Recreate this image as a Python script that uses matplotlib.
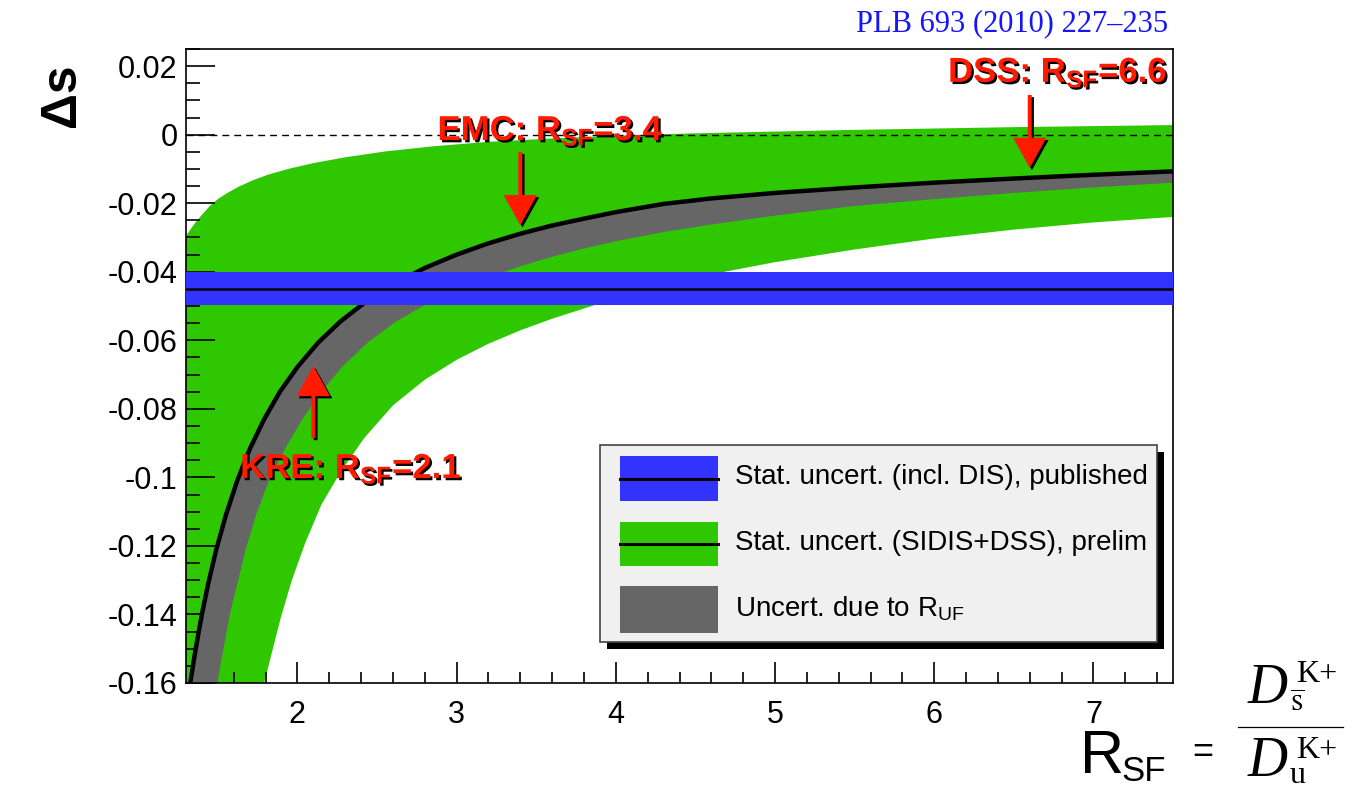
import matplotlib
matplotlib.use('Agg')
import numpy as np
import matplotlib.pyplot as plt
import matplotlib.patheffects as pe
from matplotlib.patches import FancyArrow, Rectangle
from matplotlib.lines import Line2D
from matplotlib.ticker import MultipleLocator

plt.rcParams['font.family'] = ['Liberation Sans', 'DejaVu Sans']
plt.rcParams['mathtext.fontset'] = 'custom'
plt.rcParams['mathtext.rm'] = 'Liberation Sans'
plt.rcParams['mathtext.it'] = 'Liberation Sans:italic'
plt.rcParams['mathtext.bf'] = 'Liberation Sans:bold'

# --- values ---
# central result vs R_SF (black line, top edge of the grey band)
r_central = [1.30, 1.33, 1.36, 1.40, 1.44, 1.49, 1.55, 1.62, 1.70, 1.79, 1.89, 2.00,
             2.13, 2.27, 2.42, 2.60, 2.80, 3.00, 3.20, 3.40, 3.60, 3.80, 4.00, 4.30,
             4.60, 5.00, 5.50, 6.00, 6.50, 7.00, 7.50]
ds_central = [-0.1688, -0.1590, -0.1503, -0.1399, -0.1309, -0.1211, -0.1111, -0.1012,
              -0.0918, -0.0831, -0.0750, -0.0678, -0.0607, -0.0545, -0.0491, -0.0437,
              -0.0389, -0.0350, -0.0317, -0.0289, -0.0265, -0.0245, -0.0226, -0.0202,
              -0.0186, -0.0170, -0.0154, -0.0140, -0.0128, -0.0117, -0.0107]

# lower edge of the R_UF uncertainty (grey)
r_grey_low = [1.30, 1.40, 1.50, 1.575, 1.675, 1.74, 1.82, 1.92, 2.03, 2.15, 2.28, 2.44,
              2.62, 2.80, 3.00, 3.20, 3.40, 3.60, 3.80, 4.00, 4.30, 4.60, 5.00, 5.50,
              6.00, 6.50, 7.00, 7.50]
ds_grey_low = [-0.215, -0.186, -0.159, -0.140, -0.121, -0.111, -0.101, -0.0918, -0.0831,
               -0.0750, -0.0678, -0.0607, -0.0545, -0.0497, -0.0453, -0.0416, -0.0384,
               -0.0356, -0.0332, -0.0311, -0.0284, -0.0262, -0.0236, -0.0208, -0.0188,
               -0.0170, -0.0154, -0.0140]

# stat. uncertainty SIDIS+DSS (green), upper and lower edges
r_green_up = [1.30, 1.33, 1.36, 1.40, 1.45, 1.50, 1.56, 1.63, 1.72, 1.82, 1.95, 2.10,
              2.30, 2.55, 2.85, 3.20, 3.60, 4.00, 4.50, 5.00, 5.50, 6.00, 6.50, 7.00, 7.50]
ds_green_up = [-0.0296, -0.0275, -0.0256, -0.0234, -0.0208, -0.0188, -0.0170, -0.0152,
               -0.0133, -0.0116, -0.0099, -0.0083, -0.0066, -0.0049, -0.0034, -0.0021,
               -0.0011, -0.0003, 0.0004, 0.0009, 0.0014, 0.0018, 0.0022, 0.0025, 0.0028]
r_green_low = [1.30, 1.50, 1.65, 1.791, 1.84, 1.895, 1.965, 2.05, 2.15, 2.27, 2.42, 2.60,
               2.80, 3.00, 3.20, 3.40, 3.60, 3.95, 4.30, 4.65, 5.00, 5.50, 6.00, 6.50,
               7.00, 7.50]
ds_green_low = [-0.300, -0.232, -0.190, -0.160, -0.151, -0.141, -0.130, -0.119, -0.108,
                -0.0985, -0.0885, -0.0790, -0.0715, -0.0657, -0.0610, -0.0571, -0.0537,
                -0.0485, -0.0441, -0.0403, -0.0372, -0.0335, -0.0303, -0.0277, -0.0256,
                -0.0240]

# published value (blue band)
ds_pub = -0.0449
ds_pub_err = 0.0049

# R_SF of the fragmentation function sets
model_names = ['KRE', 'EMC', 'DSS']
model_r = [2.1, 3.4, 6.6]

legend_labels = ['Stat. uncert. (incl. DIS), published',
                 'Stat. uncert. (SIDIS+DSS), prelim',
                 r'Uncert. due to R$_{\mathrm{UF}}$']

# --- style ---
GREEN = '#2ec700'
BLUE = '#3333ff'
GREY = '#666666'
RED = '#ff1a00'
W, H = 1353, 792
AX_L, AX_R, AX_T, AX_B = 186, 1173, 49, 683

fig = plt.figure(figsize=(W / 100, H / 100), dpi=100)
ax = fig.add_axes([AX_L / W, 1 - AX_B / H, (AX_R - AX_L) / W, (AX_B - AX_T) / H])
ax.set_xlim(1.3, 7.5)
ax.set_ylim(-0.16, 0.025)


def px2ax(px, py):
    return (px - AX_L) / (AX_R - AX_L), (AX_B - py) / (AX_B - AX_T)


def ftext(px, py, s, **kw):
    return fig.text(px / W, 1 - py / H, s, **kw)


# bands
ax.fill(np.concatenate([r_green_up, r_green_low[::-1]]),
        np.concatenate([ds_green_up, ds_green_low[::-1]]),
        color=GREEN, lw=0, zorder=1)
ax.fill(np.concatenate([r_central, r_grey_low[::-1]]),
        np.concatenate([ds_central, ds_grey_low[::-1]]),
        color=GREY, lw=0, zorder=2)
ax.plot(r_central, ds_central, color='k', lw=3.2, zorder=3, solid_joinstyle='round')
ax.axhline(0, color='k', lw=1, ls=(0, (5, 3.6)), zorder=3.5)
ax.axhspan(ds_pub - ds_pub_err, ds_pub + ds_pub_err, color=BLUE, lw=0, zorder=4)
ax.axhline(ds_pub, color='k', lw=1.8, zorder=4.5)

# arrows + labels
shadow = [pe.SimplePatchShadow(offset=(1.6, -1.6), shadow_rgbFace='k', alpha=1), pe.Normal()]
arrow_ends = {'KRE': (-0.0885, -0.0675), 'EMC': (-0.0050, -0.0264), 'DSS': (0.0116, -0.0097)}
label_pos = {'KRE': (1.64, -0.1002), 'EMC': (2.88, -0.0016), 'DSS': (6.087, 0.0154)}
for name, r in zip(model_names, model_r):
    y0, y1 = arrow_ends[name]
    arr = FancyArrow(r, y0, 0, y1 - y0, width=0.025, head_width=0.21, head_length=0.0088,
                     length_includes_head=True, color=RED, lw=0, zorder=6)
    arr.set_path_effects(shadow)
    ax.add_patch(arr)
    lx, ly = label_pos[name]
    ax.text(lx, ly, name + r': R$_{\mathbf{SF}}$=' + f'{r:.1f}', color=RED, fontsize=25,
            fontweight='bold', ha='left', va='baseline', zorder=7, path_effects=shadow)

# axes styling
for s in ax.spines.values():
    s.set_linewidth(1.2)
ax.xaxis.set_major_locator(MultipleLocator(1))
ax.xaxis.set_minor_locator(MultipleLocator(0.2))
ax.yaxis.set_major_locator(MultipleLocator(0.02))
ax.yaxis.set_minor_locator(MultipleLocator(0.005))
ax.tick_params(axis='both', which='both', direction='in', top=False, right=False,
               labelsize=22, width=1.2)
ax.tick_params(axis='y', which='major', length=21, pad=6)
ax.tick_params(axis='y', which='minor', length=10)
ax.tick_params(axis='x', which='major', length=15, pad=12)
ax.tick_params(axis='x', which='minor', length=8)
ax.yaxis.set_major_formatter(plt.FuncFormatter(lambda v, p: '0' if abs(v) < 1e-9 else f'{v:g}'))

# legend (drawn by hand to follow the ROOT box)
lx0, ly0 = px2ax(600, 642)
lx1, ly1 = px2ax(1157, 445)
sx, sy = px2ax(607, 649)
ax.add_patch(Rectangle((sx, sy), lx1 - lx0, ly1 - ly0, transform=ax.transAxes,
                       color='k', lw=0, zorder=8, clip_on=False))
ax.add_patch(Rectangle((lx0, ly0), lx1 - lx0, ly1 - ly0, transform=ax.transAxes,
                       facecolor='#f0f0f0', edgecolor='#444444', lw=1.2, zorder=9,
                       clip_on=False))
rows = [(456, 501), (522, 566), (586, 633)]
colors = [BLUE, GREEN, GREY]
for i, ((t, b), c, lab) in enumerate(zip(rows, colors, legend_labels)):
    x0, y0 = px2ax(620, b)
    x1, y1 = px2ax(718, t)
    ax.add_patch(Rectangle((x0, y0), x1 - x0, y1 - y0, transform=ax.transAxes,
                           facecolor=c, edgecolor='none', zorder=10))
    if i < 2:
        ax.add_line(Line2D([x0, x1], [(y0 + y1) / 2] * 2, transform=ax.transAxes,
                           color='k', lw=2.2, zorder=11))
    tx, ty = px2ax(735, (t + b) / 2 - 1)
    ax.text(tx, ty, lab, transform=ax.transAxes, fontsize=20, ha='left', va='center',
            zorder=11)

# outer labels
ftext(1168, 24, 'PLB 693 (2010) 227\u2013235', color='#1414ff', fontsize=22,
      family='Liberation Serif', ha='right', va='center')
ftext(62, 95, '\u0394s', fontsize=36, fontweight='bold', rotation=90,
      ha='center', va='center')
ftext(1080, 773, 'R', fontsize=44, ha='left', va='baseline')
ftext(1121, 781, 'SF', fontsize=25, ha='left', va='baseline')
ftext(1203, 752, '=', fontsize=26, ha='center', va='center')
fig.add_artist(Line2D([1238 / W, 1343 / W], [1 - 727 / H] * 2, color='k', lw=0.9))
serif = 'Liberation Serif'
ftext(1248, 703, 'D', family=serif, style='italic', fontsize=40, ha='left', va='baseline')
ftext(1296, 682, 'K+', family=serif, fontsize=23, ha='left', va='baseline')
ftext(1290, 712, r'$\overline{\mathrm{s}}$', math_fontfamily='stix', fontsize=23,
      ha='left', va='baseline')
ftext(1248, 776, 'D', family=serif, style='italic', fontsize=40, ha='left', va='baseline')
ftext(1296, 758, 'K+', family=serif, fontsize=23, ha='left', va='baseline')
ftext(1290, 783, 'u', family=serif, fontsize=23, ha='left', va='baseline')

fig.savefig('out.png', dpi=100)
